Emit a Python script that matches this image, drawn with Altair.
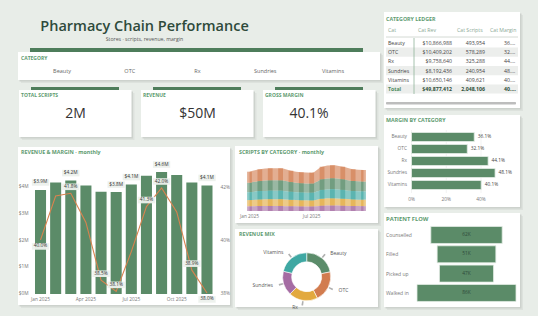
import altair as alt
import pandas as pd

# ---------------- data ----------------
categories = ["Beauty", "OTC", "Rx", "Sundries", "Vitamins"]
cat_revenue = [10866988, 10409202, 9758640, 8192436, 10650146]
cat_scripts = [493954, 578289, 325288, 240954, 409621]
cat_margin = [0.361, 0.321, 0.441, 0.481, 0.401]
total_margin = 0.401

months = ["Jan", "Feb", "Mar", "Apr", "May", "Jun", "Jul", "Aug", "Sep", "Oct", "Nov", "Dec"]
monthly_revenue = [3.89e6, 4.17e6, 4.24e6, 4.06e6, 3.82e6, 3.81e6, 4.09e6, 4.42e6, 4.56e6, 4.45e6, 4.17e6, 4.06e6]
monthly_margin = [0.4004, 0.417, 0.418, 0.407, 0.3852, 0.381, 0.396, 0.413, 0.420, 0.411, 0.389, 0.3804]
rev_labelled = ["Jan", "Mar", "Jun", "Jul", "Sep", "Dec"]
margin_labelled_above = ["Mar", "May", "Jun", "Aug", "Sep", "Nov"]
margin_labelled_below = ["Jan", "Dec"]
month_ticks = ["Jan", "Apr", "Jul", "Oct"]

scripts_beauty = [38800, 41100, 42100, 42000, 39700, 38200, 37800, 43700, 45100, 43600, 41200, 40500]
scripts_otc = [45300, 48100, 49200, 49300, 46500, 44600, 44200, 51100, 52700, 51200, 48000, 47300]
scripts_rx = [25600, 27100, 27800, 27700, 26200, 25200, 24900, 28800, 29700, 28800, 27200, 26700]
scripts_sundries = [19000, 20100, 20600, 20700, 19400, 18700, 18500, 21400, 22000, 21300, 20100, 19800]
scripts_vitamins = [32100, 34200, 34900, 34900, 33000, 31600, 31300, 36200, 37400, 36300, 34100, 33400]

flow_steps = ["Counselled", "Filled", "Picked up", "Walked in"]
flow_patients = [62000, 51000, 47000, 86000]

cat_colors = ["#5b8c6a", "#d27c4f", "#e2a93f", "#a56ca3", "#3fa8a3"]

# ---------------- style ----------------
W, H = 538, 316
BG = "#e8ede8"
FONT = "Open Sans"
GREEN = "#5b8b68"
ORANGE = "#d9834f"
SEC = "#5e9b70"
GREY = "#777777"
DARK = "#333333"
ONE = alt.Data(values=[{"k": 1}])

layers = []


def rect(x, y, w, h, color, opacity=1.0, radius=0):
    layers.append(
        alt.Chart(ONE)
        .mark_rect(color=color, opacity=opacity, cornerRadius=radius)
        .encode(x=alt.value(x), x2=alt.value(x + w), y=alt.value(y), y2=alt.value(y + h))
    )


def card(x, y, w, h):
    rect(x + 3, y + 3, w, h, "#dde2dd")
    rect(x + 1.5, y + 1.5, w, h, "#cdd2cd")
    rect(x, y, w, h, "white")


def label(txt, x, y, size=5.5, color=GREY, align="left", weight="normal", font=FONT, limit=0):
    kw = {}
    if limit:
        kw = {"limit": limit, "ellipsis": ""}
    layers.append(
        alt.Chart(ONE)
        .mark_text(text=txt, align=align, baseline="alphabetic", fontSize=size, color=color,
                   fontWeight=weight, font=font, **kw)
        .encode(x=alt.value(x), y=alt.value(y))
    )


# ---------------- header ----------------
label("Pharmacy Chain Performance", 144.5, 30.5, size=14.5, color="#2e4a3b", align="center", weight=600)
label("Stores · scripts, revenue, margin", 144.5, 41, size=5.2, color="#555555", align="center")
rect(30, 48, 333, 4, "#4e7d5b")

# slicer
card(18, 52, 362, 28)
label("CATEGORY", 21, 59.5, size=5, color=SEC, weight="bold")
slicer_df = pd.DataFrame({"cat": categories})
layers.append(
    alt.Chart(slicer_df).mark_text(fontSize=5.5, color="#666666", font=FONT, baseline="alphabetic")
    .encode(x=alt.X("cat:N", scale=alt.Scale(type="point", domain=categories, range=[62, 333], padding=0), axis=None),
            y=alt.value(72.5), text="cat:N")
)

# KPI cards
total_scripts = sum(cat_scripts)
total_revenue = sum(cat_revenue)
kpis = [
    ("TOTAL SCRIPTS", f"{round(total_scripts / 1e6)}M", 19, 75.5),
    ("REVENUE", f"${round(total_revenue / 1e6)}M", 141, 197.5),
    ("GROSS MARGIN", f"{total_margin * 100:.1f}%", 263, 309),
]
for name, val, x0, cx in kpis:
    rect(x0 + 12, 87, 88, 4, "#4e7d5b")
    card(x0, 90, 112.5, 47)
    label(name, x0 + 2, 96.5, size=5, color=SEC, weight="bold")
    label(val, cx, 117.5, size=14, color=DARK, align="center")

# ---------------- revenue & margin ----------------
card(18, 147, 212, 158)
label("REVENUE & MARGIN  ·  monthly", 21, 153.5, size=5.3, color=SEC, weight="bold")

rev_df = pd.DataFrame({"month": months, "revenue": monthly_revenue, "margin": monthly_margin})
rev_df["rev_text"] = [f"${v / 1e6:.1f}M" for v in monthly_revenue]
rev_df["m_text"] = [f"{m * 100:.1f}%" for m in monthly_margin]

band_x = alt.X("month:N", scale=alt.Scale(type="band", domain=months, range=[33, 214.5],
                                          paddingInner=0.27, paddingOuter=0.132), axis=None)
pt_x = alt.X("month:N", scale=alt.Scale(type="point", domain=months, range=[40.5, 207], padding=0), axis=None)
rev_scale = alt.Scale(domain=[0, 4e6], range=[294, 187], nice=False, zero=False)
mar_scale = alt.Scale(domain=[0.38, 0.42], range=[294, 188], nice=False, zero=False)

layers.append(alt.Chart(rev_df).mark_bar(color=GREEN).encode(
    x=band_x, y=alt.Y("revenue:Q", scale=rev_scale, axis=None)))
layers.append(alt.Chart(rev_df).mark_line(color=ORANGE, strokeWidth=1.1).encode(
    x=pt_x, y=alt.Y("margin:Q", scale=mar_scale, axis=None)))

BOX = "M-1,-0.38L1,-0.38L1,0.38L-1,0.38Z"
rev_lab = alt.Chart(rev_df).transform_filter(alt.FieldOneOfPredicate(field="month", oneOf=rev_labelled))
layers.append(rev_lab.mark_point(shape=BOX, size=300, filled=True, fill="#edf1ed", opacity=1, yOffset=-7.5).encode(
    x=pt_x, y=alt.Y("revenue:Q", scale=rev_scale, axis=None)))
layers.append(rev_lab.mark_text(fontSize=4.8, color=DARK, font=FONT, dy=-7.5, baseline="middle").encode(
    x=pt_x, y=alt.Y("revenue:Q", scale=rev_scale, axis=None), text="rev_text:N"))

for sel, off in ((margin_labelled_above, -6.5), (margin_labelled_below, 6.5)):
    mlab = alt.Chart(rev_df).transform_filter(alt.FieldOneOfPredicate(field="month", oneOf=sel))
    layers.append(mlab.mark_point(shape=BOX, size=300, filled=True, fill="#edf1ed", opacity=0.95, yOffset=off).encode(
        x=pt_x, y=alt.Y("margin:Q", scale=mar_scale, axis=None)))
    layers.append(mlab.mark_text(fontSize=4.8, color=DARK, font=FONT, dy=off, baseline="middle").encode(
        x=pt_x, y=alt.Y("margin:Q", scale=mar_scale, axis=None), text="m_text:N"))

rev_ticks = pd.DataFrame({"v": [0, 1e6, 2e6, 3e6, 4e6], "t": ["$0M", "$1M", "$2M", "$3M", "$4M"]})
layers.append(alt.Chart(rev_ticks).mark_text(fontSize=4.8, color=GREY, font=FONT, align="right", baseline="middle").encode(
    x=alt.value(28.5), y=alt.Y("v:Q", scale=rev_scale, axis=None), text="t:N"))
mar_ticks = pd.DataFrame({"v": [0.38, 0.40, 0.42], "t": ["38%", "40%", "42%"]})
layers.append(alt.Chart(mar_ticks).mark_text(fontSize=4.8, color=GREY, font=FONT, align="left", baseline="middle").encode(
    x=alt.value(220.5), y=alt.Y("v:Q", scale=mar_scale, axis=None), text="t:N"))
mt_df = pd.DataFrame({"month": month_ticks, "t": [f"{m} 2025" for m in month_ticks]})
layers.append(alt.Chart(mt_df).mark_text(fontSize=4.8, color=GREY, font=FONT, baseline="middle").encode(
    x=pt_x, y=alt.value(299.5), text="t:N"))

# ---------------- scripts by category ----------------
card(235, 146, 143, 77)
label("SCRIPTS BY CATEGORY  ·  monthly", 239, 153.5, size=5.3, color=SEC, weight="bold")

series = {"Beauty": scripts_beauty, "OTC": scripts_otc, "Rx": scripts_rx,
          "Sundries": scripts_sundries, "Vitamins": scripts_vitamins}
stack_rank = {c: r for r, c in enumerate(sorted(categories, key=lambda c: cat_scripts[categories.index(c)]))}
sc_rows = []
for c, vals in series.items():
    for m, v in zip(months, vals):
        sc_rows.append({"month": m, "cat": c, "scripts": v, "rank": stack_rank[c]})
sc_df = pd.DataFrame(sc_rows)
sc_x = alt.X("month:N", scale=alt.Scale(type="point", domain=months, range=[249.5, 363.5], padding=0), axis=None)
sc_y = alt.Y("scripts:Q", stack="zero", scale=alt.Scale(domain=[0, 208600], range=[211, 160], nice=False), axis=None)
sc_color = alt.Color("cat:N", scale=alt.Scale(domain=categories, range=cat_colors), legend=None)
layers.append(alt.Chart(sc_df).mark_area(opacity=0.62, interpolate="monotone").encode(
    x=sc_x, y=sc_y, color=sc_color, order=alt.Order("rank:Q", sort="ascending")))
layers.append(alt.Chart(sc_df).mark_bar(size=4.8, opacity=0.62).encode(
    x=sc_x, y=sc_y, color=sc_color, order=alt.Order("rank:Q", sort="ascending")))
sct_df = pd.DataFrame({"month": ["Jan", "Jul"], "t": ["Jan 2025", "Jul 2025"]})
layers.append(alt.Chart(sct_df).mark_text(fontSize=4.8, color=GREY, font=FONT, baseline="middle").encode(
    x=sc_x, y=alt.value(216.5), text="t:N"))

# ---------------- revenue mix ----------------
card(235, 229, 143, 78)
label("REVENUE MIX", 239, 236, size=5.3, color=SEC, weight="bold")
CX, CY = 306.7, 276.7
mix_df = pd.DataFrame({"cat": categories, "revenue": cat_revenue, "idx": range(len(categories))})
tot = mix_df["revenue"].sum()
cum = mix_df["revenue"].cumsum() / tot
start = cum - mix_df["revenue"] / tot
mix_df["mid"] = (start + cum) / 2 * 2 * 3.141592653589793
mix_df["t1"] = mix_df["mid"] - 0.03
mix_df["t2"] = mix_df["mid"] + 0.03
layers.append(alt.Chart(mix_df).mark_arc(radius=24, innerRadius=15, stroke="white", strokeWidth=0.6).encode(
    theta=alt.Theta("revenue:Q", stack=True), color=sc_color.copy(), order=alt.Order("idx:Q"),
    x=alt.value(CX), y=alt.value(CY)))
layers.append(alt.Chart(mix_df).mark_arc(radius=29, radius2=24.8, color="#b0b0b0").encode(
    theta=alt.Theta("t1:Q", scale=None, stack=False), theta2="t2:Q",
    x=alt.value(CX), y=alt.value(CY)))
right_side = alt.datum.mid < 3.141592653589793
for pred, al, dx in ((right_side, "left", 4), (~right_side, "right", -4)):
    layers.append(alt.Chart(mix_df).transform_filter(pred).mark_text(
        radius=31, align=al, dx=dx, baseline="middle", fontSize=5, color="#555555", font=FONT).encode(
        theta=alt.Theta("mid:Q", scale=None, stack=False), text="cat:N",
        x=alt.value(CX), y=alt.value(CY)))

# ---------------- category ledger ----------------
card(384, 12, 136, 96)
label("CATEGORY LEDGER", 386, 21, size=5.3, color=SEC, weight="bold")
rows = categories + ["Total"]
led_df = pd.DataFrame({
    "row": rows,
    "rev": [f"${v:,.0f}" for v in cat_revenue] + [f"${total_revenue:,.0f}"],
    "scr": [f"{v:,.0f}" for v in cat_scripts] + [f"{total_scripts:,.0f}"],
    "mar": [f"{m * 100:.1f}%" for m in cat_margin] + [f"{total_margin * 100:.1f}%"],
    "total": [False] * len(categories) + [True],
    "odd": [i % 2 == 1 for i in range(len(rows))],
})
row_band = alt.Y("row:N", scale=alt.Scale(type="band", domain=rows, range=[38.4, 93.6], padding=0), axis=None)
row_pt = alt.Y("row:N", scale=alt.Scale(type="point", domain=rows, range=[43, 89], padding=0), axis=None)
layers.append(alt.Chart(led_df).transform_filter("datum.odd").mark_rect(color="#eceeec").encode(
    y=row_band, x=alt.value(386), x2=alt.value(518)))
hdr_y = 31.5
label("Cat", 388, hdr_y, size=5.2, color="#8aa894")
label("Cat Rev", 418, hdr_y, size=5.2, color="#8aa894")
label("Cat Scripts", 457, hdr_y, size=5.2, color="#8aa894")
label("Cat Margin", 490, hdr_y, size=5.2, color="#8aa894", limit=28)
layers.append(alt.Chart(ONE).mark_rule(color="#c9d0c9", strokeWidth=0.8).encode(
    x=alt.value(386), x2=alt.value(518), y=alt.value(37)))
layers.append(alt.Chart(ONE).mark_rule(color="#8fb39a", strokeWidth=0.8).encode(
    x=alt.value(414), y=alt.value(38), y2=alt.value(94)))
for flt, col, wt in (("!datum.total", "#444444", "normal"), ("datum.total", "#2f4f3a", "bold")):
    base = alt.Chart(led_df).transform_filter(flt)
    layers.append(base.mark_text(fontSize=5.2, align="left", baseline="middle", font=FONT, fontWeight=wt,
                                 color=("#4e8a5e" if wt == "bold" else col)).encode(
        x=alt.value(388), y=row_pt, text="row:N"))
    layers.append(base.mark_text(fontSize=5.2, align="right", baseline="middle", font=FONT, fontWeight=wt, color=col).encode(
        x=alt.value(452), y=row_pt, text="rev:N"))
    layers.append(base.mark_text(fontSize=5.2, align="right", baseline="middle", font=FONT, fontWeight=wt, color=col).encode(
        x=alt.value(485), y=row_pt, text="scr:N"))
    layers.append(base.mark_text(fontSize=5.2, align="left", baseline="middle", font=FONT, fontWeight=wt, color=col,
                                 limit=12.5, ellipsis="").encode(
        x=alt.value(504), y=row_pt, text="mar:N"))
rect(386, 102, 130, 2.5, "#bdbdbd", radius=1)

# ---------------- margin by category ----------------
card(384, 115, 136, 92)
label("MARGIN BY CATEGORY", 386, 122, size=5.3, color=SEC, weight="bold")
mbc_df = pd.DataFrame({"cat": categories, "margin": cat_margin})
mbc_df["t"] = [f"{m * 100:.1f}%" for m in cat_margin]
mx_scale = alt.Scale(domain=[0, 0.4], range=[411.5, 481], nice=False, zero=False)
grid_df = pd.DataFrame({"v": [0, 0.2, 0.4], "t": ["0%", "20%", "40%"]})
layers.append(alt.Chart(grid_df).mark_rule(color="#f0f0f0", strokeWidth=0.8).encode(
    x=alt.X("v:Q", scale=mx_scale, axis=None), y=alt.value(130), y2=alt.value(193)))
mbc_band = alt.Y("cat:N", scale=alt.Scale(type="band", domain=categories, range=[131, 191],
                                          paddingInner=0.25, paddingOuter=0.125), axis=None)
mbc_pt = alt.Y("cat:N", scale=alt.Scale(type="point", domain=categories, range=[137, 185], padding=0), axis=None)
layers.append(alt.Chart(mbc_df).mark_bar(color=GREEN, stroke="#e3ece5", strokeWidth=0.8).encode(
    x=alt.X("margin:Q", scale=mx_scale, axis=None), y=mbc_band))
layers.append(alt.Chart(mbc_df).mark_text(fontSize=4.8, align="left", dx=3.5, baseline="middle", color="#444444", font=FONT).encode(
    x=alt.X("margin:Q", scale=mx_scale, axis=None), y=mbc_pt, text="t:N"))
layers.append(alt.Chart(mbc_df).mark_text(fontSize=4.8, align="right", baseline="middle", color=GREY, font=FONT).encode(
    x=alt.value(407), y=mbc_pt, text="cat:N"))
layers.append(alt.Chart(grid_df).mark_text(fontSize=4.8, baseline="middle", color=GREY, font=FONT).encode(
    x=alt.X("v:Q", scale=mx_scale, axis=None), y=alt.value(199.5), text="t:N"))

# ---------------- patient flow ----------------
card(384, 213, 136, 94)
label("PATIENT FLOW", 386, 220.5, size=5.8, color=SEC, weight="bold")
flow_df = pd.DataFrame({"step": flow_steps, "patients": flow_patients})
flow_df["t"] = [f"{round(p / 1000)}K" for p in flow_patients]
fx_scale = alt.Scale(domain=[-43000, 43000], range=[417, 516], nice=False, zero=False)
fl_band = alt.Y("step:N", scale=alt.Scale(type="band", domain=flow_steps, range=[225.3, 302.6],
                                          paddingInner=0.12, paddingOuter=0.06), axis=None)
fl_pt = alt.Y("step:N", scale=alt.Scale(type="point", domain=flow_steps, range=[235, 293], padding=0), axis=None)
layers.append(alt.Chart(flow_df).transform_calculate(lo="-datum.patients/2", hi="datum.patients/2").mark_bar(
    color=GREEN, stroke="#e3ece5", strokeWidth=0.8).encode(
    x=alt.X("lo:Q", scale=fx_scale, axis=None), x2="hi:Q", y=fl_band))
layers.append(alt.Chart(flow_df).mark_text(fontSize=4.8, baseline="middle", color="#2f4a3a", font=FONT).encode(
    x=alt.value(466.5), y=fl_pt, text="t:N"))
layers.append(alt.Chart(flow_df).mark_text(fontSize=5, align="left", baseline="middle", color=GREY, font=FONT).encode(
    x=alt.value(386), y=fl_pt, text="step:N"))

# ---------------- assemble ----------------
chart = (
    alt.layer(*layers)
    .resolve_scale(x="independent", y="independent", color="independent", theta="independent")
    .properties(width=W, height=H, background=BG, padding=0, autosize=alt.AutoSizeParams(type="none"))
    .configure_view(stroke=None)
)
chart.save("out.html", embed_options={"renderer": "svg", "actions": False})
